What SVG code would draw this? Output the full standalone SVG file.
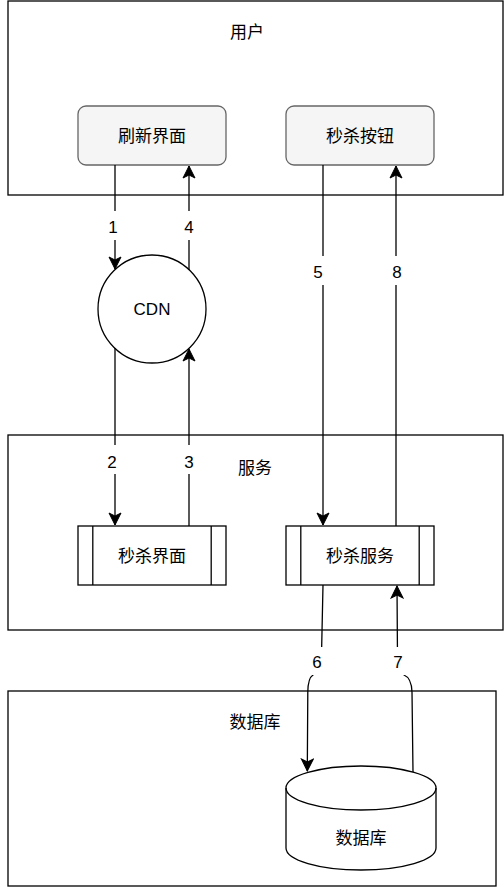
<svg xmlns="http://www.w3.org/2000/svg" width="504" height="887" viewBox="0 0 504 887">
<style>
text{font-family:"Liberation Sans","Noto Sans CJK SC",sans-serif;font-size:17px;fill:#000;text-anchor:middle;dominant-baseline:central}
.zone{fill:#fff;stroke:#000;stroke-width:1.3}
.btn{fill:#f5f5f5;stroke:#666;stroke-width:1.3}
.proc{fill:#fff;stroke:#000;stroke-width:1.3}
.edge{fill:none;stroke:#000;stroke-width:1.3}
.lbl{fill:#fff;stroke:none}
</style>
<defs>
<marker id="arr" viewBox="-13 -7 14 14" refX="0" refY="0" markerWidth="14" markerHeight="14" markerUnits="userSpaceOnUse" orient="auto">
<path d="M0,0 L-12,-6 L-9,0 L-12,6 Z" fill="#000" stroke="#000" stroke-width="1"/>
</marker>
</defs>
<g id="zone-user"><rect class="zone" x="8" y="1" width="495" height="194"/><text x="247" y="32">用户</text></g>
<g id="zone-service"><rect class="zone" x="8" y="435" width="495" height="195"/><text x="255" y="468">服务</text></g>
<g id="zone-db"><rect class="zone" x="8" y="691" width="488" height="195"/><text x="255" y="722">数据库</text></g>
<g id="node-refresh"><rect class="btn" x="78" y="106" width="148" height="59" rx="8"/><text x="152" y="136">刷新界面</text></g>
<g id="node-button"><rect class="btn" x="286" y="106" width="148" height="59" rx="8"/><text x="360" y="136">秒杀按钮</text></g>
<g id="node-cdn"><circle cx="152" cy="309" r="54" fill="#fff" stroke="#000" stroke-width="1.3"/><text x="152" y="309">CDN</text></g>
<g id="node-page"><rect class="proc" x="78" y="526" width="148" height="59"/><line class="edge" x1="92.8" y1="526" x2="92.8" y2="585"/><line class="edge" x1="211.2" y1="526" x2="211.2" y2="585"/><text x="152" y="556">秒杀界面</text></g>
<g id="node-svc"><rect class="proc" x="286" y="526" width="148" height="59"/><line class="edge" x1="300.8" y1="526" x2="300.8" y2="585"/><line class="edge" x1="419.2" y1="526" x2="419.2" y2="585"/><text x="360" y="556">秒杀服务</text></g>
<g id="node-dbcyl"><path d="M286,788 A75,22 0 0 1 436,788 L436,848 A75,22 0 0 1 286,848 Z" fill="#fff" stroke="#000" stroke-width="1.3"/><path class="edge" d="M286,788 A75,22 0 0 0 436,788"/><text x="361" y="838">数据库</text></g>
<g id="connectors">
<path class="edge" d="M115,165 L115,269" marker-end="url(#arr)"/>
<path class="edge" d="M189,270 L189,166" marker-end="url(#arr)"/>
<path class="edge" d="M115,348 L115,525" marker-end="url(#arr)"/>
<path class="edge" d="M189,526 L189,349" marker-end="url(#arr)"/>
<path class="edge" d="M323,165 L323,525" marker-end="url(#arr)"/>
<path class="edge" d="M396,526 L396,166" marker-end="url(#arr)"/>
<path class="edge" d="M323,585 L321.5,655 Q321,671 313,675 Q308,678 307.8,692 L307.3,771" marker-end="url(#arr)"/>
<path class="edge" d="M413,772 L412,692 Q411.5,678 404,675 Q398,672 397.5,660 L397,586" marker-end="url(#arr)"/>
<rect class="lbl" x="107" y="211" width="16" height="29"/><text x="113" y="227">1</text>
<rect class="lbl" x="181" y="211" width="16" height="29"/><text x="189" y="227">4</text>
<rect class="lbl" x="310" y="256" width="16" height="29"/><text x="318" y="272">5</text>
<rect class="lbl" x="388" y="256" width="16" height="29"/><text x="397" y="272">8</text>
<rect class="lbl" x="105" y="445" width="16" height="29"/><text x="112" y="462">2</text>
<rect class="lbl" x="181" y="445" width="16" height="29"/><text x="189" y="462">3</text>
<rect class="lbl" x="309" y="647" width="16" height="28"/><text x="317" y="662">6</text>
<rect class="lbl" x="390" y="647" width="16" height="28"/><text x="398" y="662">7</text>
</g>
</svg>
